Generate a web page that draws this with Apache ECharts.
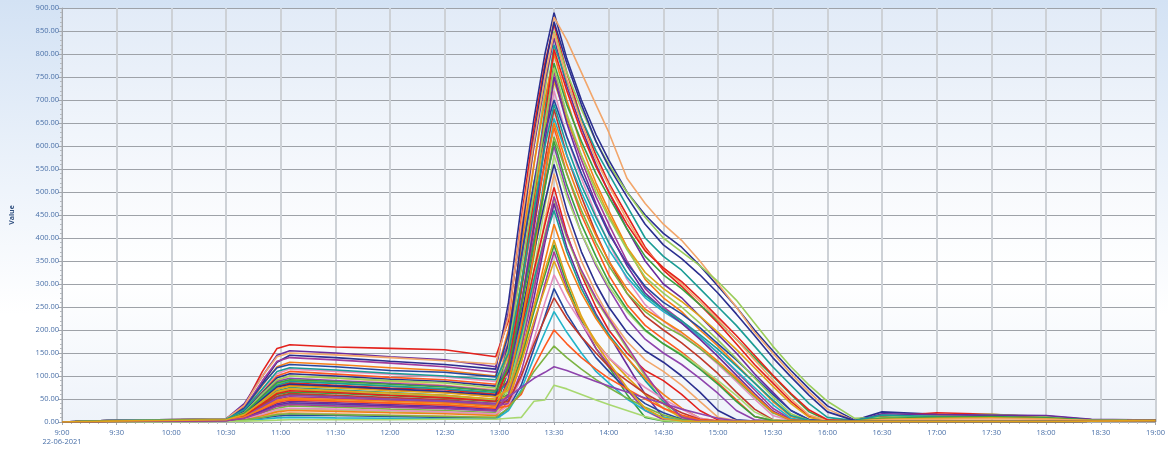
<!DOCTYPE html>
<html>
<head>
<meta charset="utf-8">
<script src="https://cdn.jsdelivr.net/npm/echarts@6/dist/echarts.min.js"></script>
<style>
html,body{margin:0;padding:0;}
#chart{width:1168px;height:449px;background:linear-gradient(180deg,#d3e2f4 0%,#eaf1fa 35%,#ffffff 70%);}
</style>
</head>
<body>
<div id="chart"></div>
<script>
// Sample times (22-06-2021)
const times = ['9:00','9:25','10:30','10:40','10:50','10:58','11:05','11:30','12:00','12:30','12:58','13:05','13:12','13:19','13:25','13:30','13:37','13:45','13:53','14:00','14:10','14:20','14:30','14:40','14:50','15:00','15:10','15:20','15:30','15:40','15:50','16:00','16:15','16:30','17:00','17:30','18:00','18:25','19:00'];
const dateLabel = '22-06-2021';
const yTicks = [0,50,100,150,200,250,300,350,400,450,500,550,600,650,700,750,800,850,900];

const s01 = [0,2,5,30,85,130,145,140,132,125,115, 260,470,660,800,890, 790,700,625,570,500,450,410,380,340,295,250,200,155,112,72,35,4, 22,17,14,13,5,4];
const s02 = [0,3,6,22,60,90,100,95,88,80,70, 180,390,600,760,880, 830,760,690,630,530,475,430,395,350,300,250,195,150,105,65,28,3, 2,2,2,2,2,3];
const s03 = [0,2,6,35,110,160,168,163,160,157,142, 220,440,640,780,865, 760,660,580,520,450,380,330,295,255,215,170,125,85,45,12,3,2, 12,20,17,10,5,4];
const s04 = [0,1,4,18,55,82,90,85,78,72,60, 150,350,560,720,850, 760,680,610,560,500,445,400,370,340,305,265,215,165,120,80,45,8, 10,14,17,12,5,4];
const s05 = [0,3,7,40,100,145,155,150,142,135,120, 240,420,600,740,835, 730,640,560,500,420,350,300,270,230,190,150,105,65,25,5,2,2, 18,16,15,14,6,4];
const s06 = [0,2,5,15,45,68,75,70,64,58,48, 130,300,500,680,820, 740,660,590,540,470,400,360,330,290,250,210,165,120,80,40,10,3, 15,12,10,8,4,3];
const s07 = [0,2,6,28,80,120,130,125,118,112,100, 200,380,560,700,800, 700,600,520,460,380,310,270,240,200,165,125,85,45,12,3,2,2, 2,2,2,2,2,3];
const s08 = [0,1,4,12,35,55,60,56,50,45,36, 110,280,470,640,780, 690,610,540,490,420,360,320,290,255,220,180,140,100,60,22,4,2, 8,10,12,9,4,3];
const s09 = [0,3,6,30,90,132,140,135,128,120,108, 170,350,520,660,760, 660,570,490,430,350,290,250,220,185,150,110,70,30,6,2,2,1, 1,2,2,2,2,3];
const s10 = [0,2,5,12,30,45,50,46,42,38,30, 140,300,480,630,740, 660,580,510,450,380,325,290,262,230,195,158,118,78,40,10,3,2, 6,8,9,7,3,3];
const s11 = [0,2,5,25,70,105,115,110,104,98,88, 100,260,440,600,720, 620,530,450,390,310,255,220,190,160,125,88,50,14,3,2,1,1, 1,1,2,2,2,3];
const s12 = [0,3,7,30,82,118,125,120,112,108,98, 190,360,520,630,700, 620,540,470,410,345,295,260,235,205,170,135,98,60,25,5,2,2, 2,2,2,2,2,3];
const s13 = [0,2,5,18,48,72,80,76,70,65,55, 120,250,420,570,680, 580,490,410,350,280,230,200,172,140,105,65,28,5,2,1,1,1, 1,1,1,2,2,3];
const s14 = [0,1,3,8,22,35,40,37,33,30,24, 90,220,380,540,660, 580,500,430,375,315,270,240,215,185,150,112,75,38,8,2,1,1, 1,1,1,1,2,3];
const s15 = [0,2,6,22,65,100,110,104,97,92,82, 150,300,450,560,640, 540,450,380,320,255,210,180,152,120,85,48,12,3,2,1,1,1, 1,1,1,1,2,3];
const s16 = [0,1,3,8,20,30,35,32,28,25,20, 80,200,360,510,620, 540,460,390,340,280,240,210,188,160,128,92,55,20,4,2,1,1, 1,1,1,1,2,3];
const s17 = [0,2,5,20,58,88,95,90,84,78,68, 130,260,400,520,600, 500,410,340,290,225,180,150,125,95,62,25,5,2,1,1,1,1, 1,1,1,1,2,3];
const s18 = [0,1,3,6,15,24,28,26,22,20,16, 70,180,330,470,580, 490,410,345,295,240,198,170,148,120,90,58,22,4,2,1,1,1, 1,1,1,1,2,3];
const s19 = [0,3,6,24,64,96,105,100,93,88,78, 110,230,370,480,560, 460,370,300,250,195,155,130,100,65,25,5,2,1,1,1,1,1, 1,1,1,1,2,3];
const s20 = [0,1,2,5,12,18,20,18,15,13,10, 60,160,310,440,540, 440,350,280,230,175,135,110,80,45,10,3,2,1,1,1,1,1, 1,1,1,1,2,3];
const s21 = [0,2,5,18,50,78,85,80,74,70,60, 90,200,330,430,510, 410,320,250,200,150,112,90,60,25,4,2,1,1,1,1,1,1, 1,1,1,1,2,3];
const s22 = [0,2,4,15,40,64,70,66,60,56,48, 70,170,300,410,485, 400,325,265,222,160,100,40,5,2,1,1,1,1,1,1,1,1, 1,1,1,1,2,3];
const s23 = [0,1,3,10,26,40,45,42,38,34,28, 50,140,270,390,475, 380,300,235,190,125,60,10,2,1,1,1,1,1,1,1,1,1, 1,1,1,1,2,3];
const s24 = [0,2,5,18,52,80,88,84,78,72,64, 85,190,310,400,460, 370,290,230,190,140,90,45,12,3,1,1,1,1,1,1,1,1, 1,1,1,1,2,3];
const s25 = [0,1,2,6,14,22,25,23,20,18,14, 45,130,250,350,430, 350,280,225,185,140,95,60,30,8,2,1,1,1,1,1,1,1, 1,1,1,1,2,3];
const s26 = [0,2,4,14,38,60,65,62,57,52,44, 60,140,240,320,385, 300,220,160,120,60,10,2,1,1,1,1,1,1,1,1,1,1, 1,1,1,1,2,3];
const s27 = [0,2,4,12,32,50,55,52,47,43,36, 40,110,210,300,370, 290,215,160,125,70,25,5,2,1,1,1,1,1,1,1,1,1, 1,1,1,1,2,3];
const s28 = [0,2,5,15,42,66,72,68,63,58,50, 55,130,220,290,350, 285,225,175,140,98,60,30,10,3,1,1,1,1,1,1,1,1, 1,1,1,1,2,3];
const s29 = [0,1,3,7,17,27,30,28,25,22,18, 35,95,180,260,320, 265,215,170,140,105,75,50,28,8,2,1,1,1,1,1,1,1, 1,1,1,1,2,3];
const s30 = [0,1,2,4,9,13,15,14,12,10,8, 30,80,160,230,290, 235,185,140,110,70,40,20,6,2,1,1,1,1,1,1,1,1, 1,1,1,1,2,3];
const s31 = [0,2,4,13,36,56,62,58,53,48,40, 45,100,170,225,270, 225,185,150,120,90,62,40,20,6,2,1,1,1,1,1,1,1, 1,1,1,1,2,3];
const s32 = [0,1,2,3,6,9,10,9,8,7,6, 25,70,140,195,240, 195,150,110,85,50,25,10,3,1,1,1,1,1,1,1,1,1, 1,1,1,1,2,3];
const s33 = [0,1,3,10,28,43,48,45,41,37,30, 35,60,120,165,200, 170,140,115,95,72,50,30,15,5,2,1,1,1,1,1,1,1, 1,1,1,1,2,3];
const s34 = [0,1,2,4,10,16,18,16,14,12,10, 30,65,110,140,165, 140,115,92,75,52,32,15,5,2,1,1,1,1,1,1,1,1, 1,1,1,1,2,3];
const s35 = [0,2,4,12,34,52,58,55,50,46,40, 55,75,95,108,120, 112,100,88,78,65,52,40,28,18,8,2,1,1,1,1,1,1, 1,1,1,1,2,3];
const s36 = [0,0,1,2,3,4,5,5,5,6,6, 8,10,45,48,80, 72,60,48,38,25,12,3,1,1,1,1,1,1,1,1,1,1, 1,1,1,1,2,3];
const s37 = [0,2,5,16,50,76,82,78,72,66,58, 170,400,620,770,870, 780,690,610,555,490,430,385,355,320,280,235,188,140,98,58,22,3, 2,2,2,2,2,3];
const s38 = [0,3,7,36,100,142,150,146,140,133,126, 230,430,610,750,845, 745,650,570,515,440,375,335,300,262,222,180,135,92,50,15,3,2, 5,6,7,6,3,3];
const s39 = [0,2,4,14,40,62,68,64,58,53,45, 120,290,490,660,810, 720,630,555,500,430,372,335,305,268,228,188,145,102,62,26,5,2, 2,2,2,2,2,3];
const s40 = [0,2,5,20,62,92,100,96,90,85,74, 160,330,500,650,770, 670,580,500,445,375,315,280,250,215,178,138,96,55,18,3,2,2, 2,2,2,2,2,3];
const s41 = [0,1,3,9,24,37,42,39,35,31,25, 95,250,430,610,750, 650,555,475,415,340,280,245,215,180,142,102,62,24,4,2,1,1, 1,1,1,1,2,3];
const s42 = [0,3,6,26,72,110,118,113,106,100,92, 150,300,460,600,690, 600,515,445,390,325,275,245,220,190,158,122,85,48,14,3,2,1, 1,1,1,1,2,3];
const s43 = [0,1,4,11,30,47,52,49,45,41,34, 85,210,370,530,650, 560,475,405,350,290,245,220,195,165,132,96,58,22,4,2,1,1, 1,1,1,1,2,3];
const s44 = [0,2,5,19,56,85,92,88,82,76,67, 120,250,390,510,610, 515,430,360,305,245,200,170,145,115,82,45,12,3,2,1,1,1, 1,1,1,1,2,3];
const s45 = [0,1,3,8,21,34,38,35,32,29,24, 60,160,290,400,490, 405,330,270,225,165,105,50,10,2,1,1,1,1,1,1,1,1, 1,1,1,1,2,3];
const s46 = [0,2,5,16,46,72,78,74,68,63,55, 70,150,250,330,395, 310,230,170,130,75,30,8,2,1,1,1,1,1,1,1,1,1, 1,1,1,1,2,3];

const allSeries = [s01,s02,s03,s04,s05,s06,s07,s08,s09,s10,s11,s12,s13,s14,s15,s16,s17,s18,s19,s20,s21,s22,s23,s24,s25,s26,s27,s28,s29,s30,s31,s32,s33,s34,s35,s36,s37,s38,s39,s40,s41,s42,s43,s44,s45,s46];

const palette = ['#2b2f8f','#f2a66b','#e3211c','#9acd5a','#6a2c9c','#1a9c95','#f57f17','#3aa040','#a23b9b','#e0a31a','#e48fbf','#27479e','#c0392b','#22b3c8','#ff5a1f','#7cb342','#8e44ad','#a8d870'];

function toMin(s){const p=s.split(':');return (+p[0])*60+(+p[1]);}
function fmtTime(v){const h=Math.floor(v/60),m=v%60;return h+':'+(m<10?'0':'')+m;}

const chart = echarts.init(document.getElementById('chart'));
chart.setOption({
  animation:false,
  color: palette,
  grid:{left:58,right:11,top:8,bottom:27,show:true,borderWidth:0,
    backgroundColor:new echarts.graphic.LinearGradient(0,0,0,1,[
      {offset:0,color:'#e2ebf7'},{offset:0.45,color:'#f8fafd'},{offset:0.65,color:'#ffffff'},{offset:1,color:'#eef3fa'}])},
  xAxis:{type:'value',min:toMin(times[0]),max:toMin(times[times.length-1]),interval:30,
    axisLine:{show:true,lineStyle:{color:'#a3a7ad'}},
    axisTick:{show:true,length:3,lineStyle:{color:'#a3a7ad'}},
    minorTick:{show:true,splitNumber:6,length:2,lineStyle:{color:'#b5b9be'}},
    axisLabel:{fontSize:7.5,color:'#4a70a8',margin:6,lineHeight:9,fontFamily:'Open Sans',
      formatter:function(v){return v===toMin(times[0])?fmtTime(v)+'\n'+dateLabel:fmtTime(v);}},
    splitLine:{show:true,lineStyle:{color:'#cdd1d6',width:2}}},
  yAxis:{type:'value',min:yTicks[0],max:yTicks[yTicks.length-1],interval:yTicks[1]-yTicks[0],
    name:'Value',nameLocation:'middle',nameRotate:90,nameGap:47,
    nameTextStyle:{fontSize:7,fontWeight:'bold',color:'#2f4f7f',fontFamily:'Open Sans'},
    axisLine:{show:true,lineStyle:{color:'#a3a7ad'}},
    axisTick:{show:true,length:4,lineStyle:{color:'#a3a7ad'}},
    minorTick:{show:true,splitNumber:5,length:2,lineStyle:{color:'#b5b9be'}},
    axisLabel:{fontSize:7.5,color:'#4a70a8',margin:3,fontFamily:'Open Sans',formatter:function(v){return v.toFixed(2);}},
    splitLine:{show:true,lineStyle:{color:'#9ea2a8',width:1}}},
  series: allSeries.map(function(vals,i){
    return {type:'line',name:'Series '+(i+1),showSymbol:false,silent:true,
      lineStyle:{width:1.6},
      data: times.map(function(t,j){return [toMin(t),vals[j]];})};
  })
});
</script>
</body>
</html>
